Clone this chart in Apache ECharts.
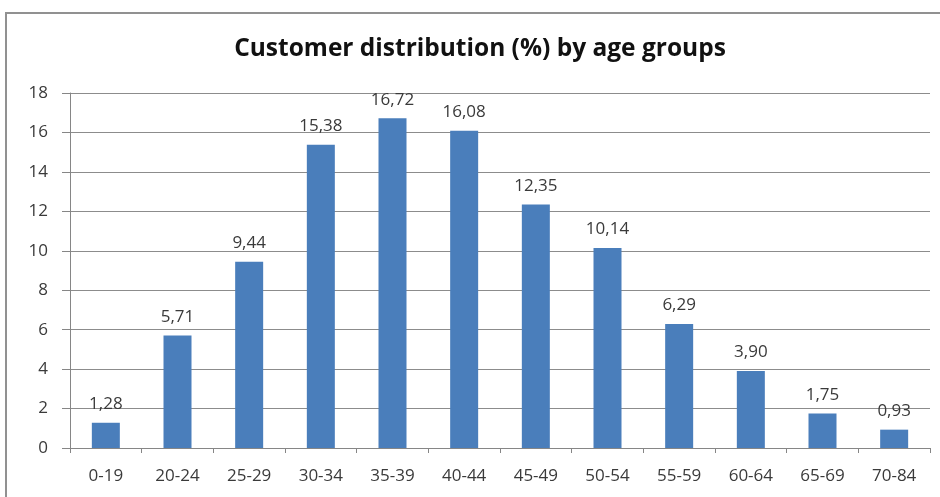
<!DOCTYPE html>
<html><head><meta charset="utf-8">
<script src="https://cdn.jsdelivr.net/npm/echarts@6/dist/echarts.min.js"></script>
<style>
html,body{margin:0;padding:0;background:#fff;}
#frame{position:absolute;left:5px;top:12px;width:950px;height:500px;border:2px solid #919191;box-sizing:border-box;}
#c{position:absolute;left:0;top:0;width:940px;height:497px;}
</style></head>
<body>
<div id="frame"></div>
<div id="c"></div>
<script>
const categories = ['0-19','20-24','25-29','30-34','35-39','40-44','45-49','50-54','55-59','60-64','65-69','70-84'];
const values = [1.28,5.71,9.44,15.38,16.72,16.08,12.35,10.14,6.29,3.90,1.75,0.93];
const titleText = 'Customer distribution (%) by age groups';

const chart = echarts.init(document.getElementById('c'));
chart.setOption({
  animation:false,
  title:{text:titleText,left:475,textAlign:'center',top:32,textStyle:{fontFamily:'Open Sans',fontWeight:'bold',fontSize:24.5,color:'#111'}},
  grid:{left:70,right:10,top:93,bottom:49,containLabel:false},
  xAxis:{type:'category',data:categories,
    axisLine:{lineStyle:{color:'#868686',width:1}},
    axisTick:{show:true,length:5,lineStyle:{color:'#868686'}},
    axisLabel:{color:'#3a3a3a',fontFamily:'Open Sans',fontSize:17,margin:20}},
  yAxis:{type:'value',min:0,max:18,interval:2,
    axisLine:{show:true,lineStyle:{color:'#868686'}},
    axisTick:{show:true,length:8,lineStyle:{color:'#868686'}},
    splitLine:{lineStyle:{color:'#8c8c8c',width:1}},
    axisLabel:{color:'#3a3a3a',fontFamily:'Open Sans',fontSize:17,margin:22}},
  series:[{type:'bar',data:values,barWidth:28,
    itemStyle:{color:'#4a7ebb'},
    label:{show:true,position:'top',distance:10,color:'#3a3a3a',fontFamily:'Open Sans',fontSize:17,
      formatter:p=>p.value.toFixed(2).replace('.',',')}}]
});
</script>
</body></html>
